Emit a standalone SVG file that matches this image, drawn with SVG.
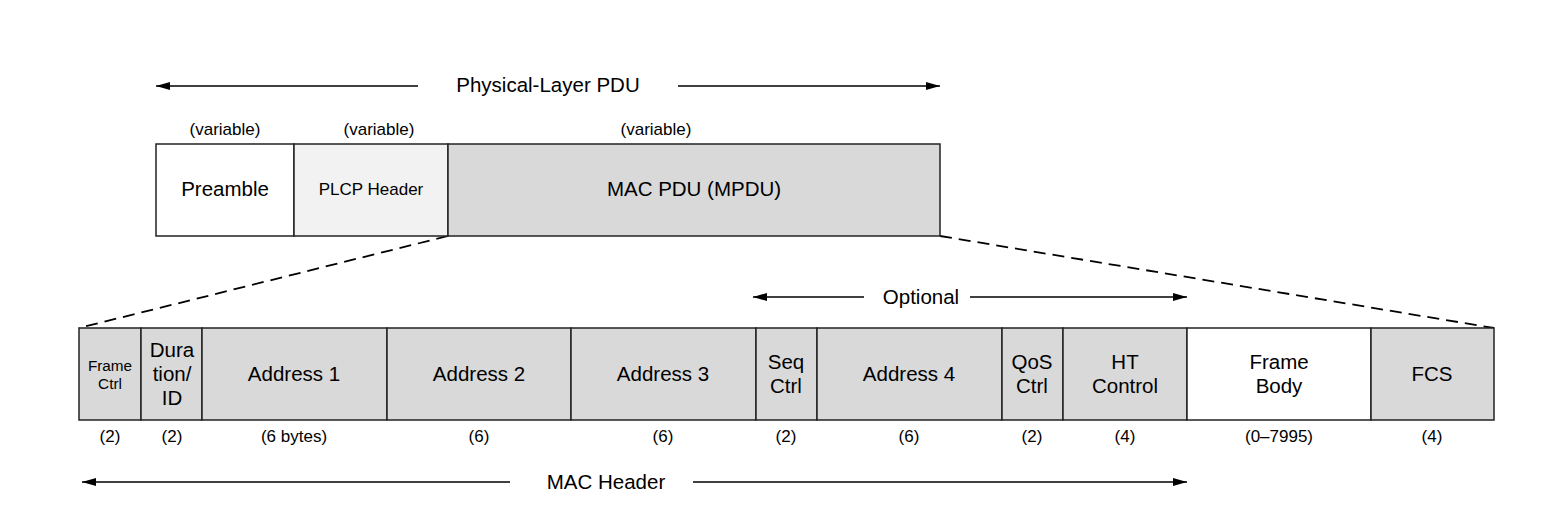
<svg xmlns="http://www.w3.org/2000/svg" width="1554" height="517" viewBox="0 0 1554 517">
<defs>
<marker id="ah" viewBox="0 0 14 8" refX="14" refY="4" markerWidth="14" markerHeight="8" markerUnits="userSpaceOnUse" orient="auto">
<path d="M0,0 L14,4 L0,8 Z" fill="#000"/>
</marker>
<style>
text{font-family:"Liberation Sans",Arial,sans-serif;fill:#000;text-anchor:middle}
.c{stroke:#222;stroke-width:1.5}
.w{fill:#fff}.l{fill:#f2f2f2}.g{fill:#d9d9d9}
.t{font-size:20.5px}.s{font-size:17px}.f{font-size:15.3px}
.a{stroke:#000;stroke-width:1.5;fill:none}
.d{stroke:#000;stroke-width:1.8;fill:none;stroke-dasharray:12 7}
</style>
</defs>
<rect width="1554" height="517" fill="#fff"/>
<g id="connectors">
<line class="a" x1="418" y1="86" x2="156" y2="86" marker-end="url(#ah)"/>
<line class="a" x1="678" y1="86" x2="940" y2="86" marker-end="url(#ah)"/>
<line class="d" x1="448" y1="236" x2="79" y2="328"/>
<line class="d" x1="940" y1="236" x2="1494" y2="328"/>
<line class="a" x1="864" y1="297" x2="753" y2="297" marker-end="url(#ah)"/>
<line class="a" x1="970" y1="297" x2="1187" y2="297" marker-end="url(#ah)"/>
<line class="a" x1="510" y1="482" x2="82" y2="482" marker-end="url(#ah)"/>
<line class="a" x1="693" y1="482" x2="1187" y2="482" marker-end="url(#ah)"/>
</g>
<g id="labels">
<text class="t" x="548" y="92">Physical-Layer PDU</text>
<text class="t" x="921" y="304">Optional</text>
<text class="t" x="606" y="489">MAC Header</text>
<text class="s" x="225" y="135">(variable)</text>
<text class="s" x="379" y="135">(variable)</text>
<text class="s" x="656" y="135">(variable)</text>
</g>
<g id="preamble"><rect class="c w" x="156" y="144" width="138" height="92"/><text class="t" x="225" y="196">Preamble</text></g>
<g id="plcp"><rect class="c l" x="294" y="144" width="154" height="92"/><text class="s" x="371" y="195">PLCP Header</text></g>
<g id="mpdu"><rect class="c g" x="448" y="144" width="492" height="92"/><text class="t" x="694" y="196">MAC PDU (MPDU)</text></g>
<g id="framectrl"><rect class="c g" x="79" y="328" width="62" height="92"/><text class="f" x="110" y="370.5">Frame</text><text class="f" x="110" y="388.5">Ctrl</text><text class="s" x="110" y="442">(2)</text></g>
<g id="duration"><rect class="c g" x="141" y="328" width="61" height="92"/><text class="t" x="172" y="357">Dura</text><text class="t" x="172" y="381">tion/</text><text class="t" x="172" y="405">ID</text><text class="s" x="172" y="442">(2)</text></g>
<g id="addr1"><rect class="c g" x="202" y="328" width="185" height="92"/><text class="t" x="294" y="381">Address 1</text><text class="s" x="294" y="442">(6 bytes)</text></g>
<g id="addr2"><rect class="c g" x="387" y="328" width="184" height="92"/><text class="t" x="479" y="381">Address 2</text><text class="s" x="479" y="442">(6)</text></g>
<g id="addr3"><rect class="c g" x="571" y="328" width="185" height="92"/><text class="t" x="663" y="381">Address 3</text><text class="s" x="663" y="442">(6)</text></g>
<g id="seqctrl"><rect class="c g" x="756" y="328" width="61" height="92"/><text class="t" x="786" y="369">Seq</text><text class="t" x="786" y="393">Ctrl</text><text class="s" x="786" y="442">(2)</text></g>
<g id="addr4"><rect class="c g" x="817" y="328" width="185" height="92"/><text class="t" x="909" y="381">Address 4</text><text class="s" x="909" y="442">(6)</text></g>
<g id="qosctrl"><rect class="c g" x="1002" y="328" width="61" height="92"/><text class="t" x="1032" y="369">QoS</text><text class="t" x="1032" y="393">Ctrl</text><text class="s" x="1032" y="442">(2)</text></g>
<g id="htcontrol"><rect class="c g" x="1063" y="328" width="124" height="92"/><text class="t" x="1125" y="369">HT</text><text class="t" x="1125" y="393">Control</text><text class="s" x="1125" y="442">(4)</text></g>
<g id="framebody"><rect class="c w" x="1187" y="328" width="184" height="92"/><text class="t" x="1279" y="369">Frame</text><text class="t" x="1279" y="393">Body</text><text class="s" x="1279" y="442">(0–7995)</text></g>
<g id="fcs"><rect class="c g" x="1371" y="328" width="123" height="92"/><text class="t" x="1432" y="381">FCS</text><text class="s" x="1432" y="442">(4)</text></g>
</svg>
